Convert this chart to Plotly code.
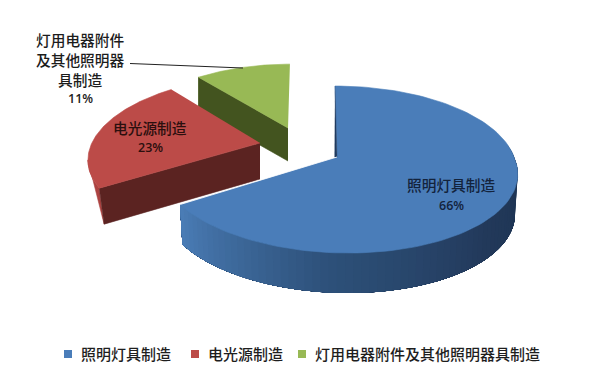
import numpy as np
import plotly.graph_objects as go

categories = ["照明灯具制造", "电光源制造", "灯用电器附件及其他照明器具制造"]
shares = [66, 23, 11]
label_lines = [["照明灯具制造"], ["电光源制造"], ["灯用电器附件", "及其他照明器", "具制造"]]

W, H = 600, 378
FONT = "Noto Sans CJK SC"
TOP = ["#4A7DB9", "#BC4B48", "#98B955"]
CUT = ["#1F3A5F", "#5B2321", "#43541F"]
WALL = [None, "#AC4341", "#7F9A45"]
# geometry of each exploded slice: apex, scale, shear above/below apex, depth, bottom scale
GEOM = [
    dict(c=(337, 157), sc=1.00, su=-0.028, sd=-0.117, d=40, b=0.985),
    dict(c=(260, 143), sc=0.95, su=0.14, sd=0.14, d=36, b=0.97),
    dict(c=(288, 128), sc=0.90, su=0.03, sd=0.03, d=33, b=1.0),
]
RX, RY, K = 177.0, 81.6, 0.15

total = sum(shares)
edges = np.cumsum([0] + shares) / total * 2 * np.pi


def project(t, g, bottom=False):
    t = np.asarray(t, dtype=float)
    u, v = np.sin(t), np.cos(t)
    w = 1 + K * v
    x = g["sc"] * RX * u / w
    y = g["sc"] * RY * v / w
    x = x + np.where(y > 0, g["su"], g["sd"]) * y
    if bottom:
        return g["c"][0] + g["b"] * x, g["c"][1] - y + g["d"]
    return g["c"][0] + x, g["c"][1] - y


def poly(fig, xs, ys, color, lw=0.6):
    fig.add_trace(go.Scatter(
        x=list(xs), y=list(ys), mode="lines", fill="toself", fillcolor=color,
        line=dict(color=color, width=lw), hoverinfo="skip", showlegend=False))


def mix(a, b, f):
    pa = [int(a[i:i + 2], 16) for i in (1, 3, 5)]
    pb = [int(b[i:i + 2], 16) for i in (1, 3, 5)]
    return "rgb(%d,%d,%d)" % tuple(round(p + (q - p) * f) for p, q in zip(pa, pb))


fig = go.Figure()

# draw far slices first, the large slice last
for i in (2, 1, 0):
    g = GEOM[i]
    a0, a1 = edges[i], edges[i + 1]
    ts = np.linspace(a0, a1, 120)
    tx, ty = project(ts, g)
    bx, by = project(ts, g, bottom=True)
    if i == 0:
        # gradient outer wall, painted so every strip overlaps the previous one
        stops = ["#1C3250", "#22395A", "#2D5079", "#4A7CB5"]
        seg = np.linspace(np.pi * 0.45, a1, 70)
        for j in range(len(seg) - 1):
            s = np.linspace(seg[j], a1, 60)
            sx, sy = project(s, g)
            ex, ey = project(s, g, bottom=True)
            f = j / (len(seg) - 2) * (len(stops) - 1)
            k = min(int(f), len(stops) - 2)
            poly(fig, np.r_[sx, ex[::-1]], np.r_[sy, ey[::-1]], mix(stops[k], stops[k + 1], f - k), lw=0)
    else:
        # outer wall: from the rim's outermost point straight down to the bottom tip
        m = int(np.argmin(tx))
        poly(fig, np.r_[tx[:m + 1], bx[0]], np.r_[ty[:m + 1], by[0]], WALL[i])
        # cut face along the slice's starting edge
        ex, ey = project([a0], g)
        fx, fy = project([a0], g, bottom=True)
        cx, cy = g["c"]
        poly(fig, [cx, ex[0], fx[0], cx], [cy, ey[0], fy[0], cy + g["d"]], CUT[i])
    # top face
    poly(fig, np.r_[g["c"][0], tx], np.r_[g["c"][1], ty], TOP[i])
    if i == 0:
        ex, ey = project([a0], g)
        poly(fig, [ex[0], g["c"][0], g["c"][0] - 2.5], [ey[0], g["c"][1], g["c"][1]], CUT[0], lw=0.3)
        lx, ly = project([a1], g)
        fig.add_trace(go.Scatter(x=[lx[0], g["c"][0]], y=[ly[0], g["c"][1]], mode="lines",
                                 line=dict(color="rgba(255,255,255,0.8)", width=1),
                                 hoverinfo="skip", showlegend=False))

# legend
leg_x = [68, 195, 302]
leg_y = 354
for name, lx, col in zip(categories, leg_x, TOP):
    fig.add_trace(go.Scatter(
        x=[lx], y=[leg_y], mode="markers", name=name, hoverinfo="skip", showlegend=False,
        marker=dict(symbol="square", size=8, color=col)))
    fig.add_annotation(x=lx + 13, y=leg_y - 1, text=name, showarrow=False, xanchor="left",
                       yanchor="middle", xshift=-2,
                       font=dict(family=FONT, size=15, color="#1E1E1E", weight=500))

# data labels
label_pos = [(451, [184], 205), (150, [127], 147), (80, [39, 59, 79], 98)]
label_col = ["#13233C", "#2B0F0E", "#1C1C1C"]
for lines, share, (lx, ys, py), col in zip(label_lines, shares, label_pos, label_col):
    for line, y in zip(lines, ys):
        fig.add_annotation(x=lx, y=y, text=line, showarrow=False,
                           font=dict(family=FONT, size=14.7, color=col, weight=500))
    fig.add_annotation(x=lx, y=py, text=f"{share}%", showarrow=False,
                       font=dict(family="Open Sans", size=12.5, color=col, weight=600))

fig.add_shape(type="line", x0=130, y0=63.5, x1=243, y1=68, line=dict(color="#222222", width=1))

fig.update_layout(
    width=W, height=H, margin=dict(l=0, r=0, t=0, b=0),
    paper_bgcolor="white", plot_bgcolor="white", showlegend=False, hovermode=False,
    xaxis=dict(range=[0, W], visible=False, fixedrange=True),
    yaxis=dict(range=[H, 0], visible=False, fixedrange=True),
)
fig.write_html("out.html", config=dict(displayModeBar=False),
               post_script="document.body.style.margin='0';document.body.style.overflow='hidden';")
